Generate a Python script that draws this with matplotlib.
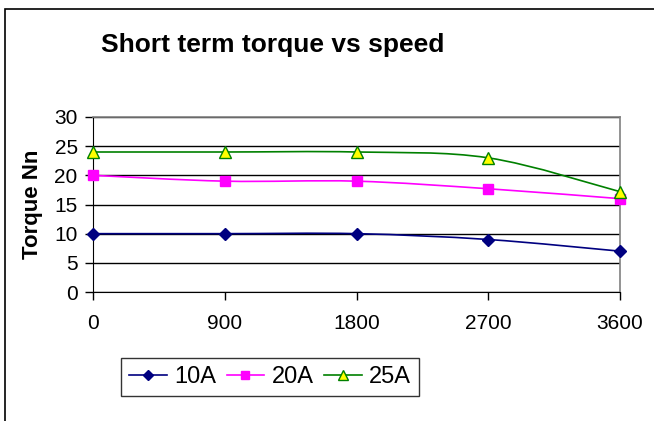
import matplotlib
matplotlib.use('Agg')
import matplotlib.pyplot as plt
from matplotlib.path import Path
from matplotlib.patches import PathPatch, Rectangle
from matplotlib.lines import Line2D
import numpy as np

speed = [0, 900, 1800, 2700, 3600]
torque_10a = [10, 10, 10, 9, 7]
torque_20a = [20, 19, 19, 17.7, 16]
torque_25a = [24, 24, 24, 23, 17.2]
series_names = ['10A', '20A', '25A']
x_ticks = [0, 900, 1800, 2700, 3600]
y_ticks = [0, 5, 10, 15, 20, 25, 30]

plt.rcParams['font.family'] = ['Liberation Sans', 'DejaVu Sans']


def smooth_path(x, y):
    # Excel style smoothed line: cubic bezier through every point
    p = np.column_stack([x, y]).astype(float)
    ext = np.vstack([p[0], p, p[-1]])
    verts = [p[0]]
    codes = [Path.MOVETO]
    for i in range(len(p) - 1):
        p0, p1, p2, p3 = ext[i], ext[i + 1], ext[i + 2], ext[i + 3]
        verts += [p1 + (p2 - p0) / 6, p2 - (p3 - p1) / 6, p2]
        codes += [Path.CURVE4] * 3
    return Path(verts, codes)


fig = plt.figure(figsize=(6.54, 4.21), dpi=100)
ax = fig.add_axes([93 / 654, 1 - 292 / 421, 527 / 654, 175 / 421])

styles = [
    dict(color='#000080', marker='D', mfc='#000080', mec='#000080', ms=6),
    dict(color='#FF00FF', marker='s', mfc='#FF00FF', mec='#FF00FF', ms=7),
    dict(color='#008000', marker='^', mfc='#FFFF00', mec='#008000', ms=8),
]
handles = []
for vals, name, st in zip([torque_10a, torque_20a, torque_25a], series_names, styles):
    ax.add_patch(PathPatch(smooth_path(speed, vals), facecolor='none',
                           edgecolor=st['color'], lw=1.2, zorder=3))
    ax.plot(speed, vals, ls='none', marker=st['marker'], mfc=st['mfc'],
            mec=st['mec'], ms=st['ms'], clip_on=False, zorder=4)
    handles.append(Line2D([], [], color=st['color'], lw=1.2, marker=st['marker'],
                          mfc=st['mfc'], mec=st['mec'], ms=st['ms'] - 1, label=name))

ax.set_xlim(0, 3600)
ax.set_ylim(0, 30)
ax.set_xticks(x_ticks)
ax.set_yticks(y_ticks)
ax.yaxis.grid(True, color='black', lw=1)
ax.set_axisbelow(True)
ax.tick_params(axis='both', direction='out', length=6, width=1, labelsize=15, color='black')
ax.tick_params(axis='x', pad=10)
ax.tick_params(axis='y', pad=5)
for s in ['top', 'right']:
    ax.spines[s].set_color('#808080')
    ax.spines[s].set_linewidth(1.2)
for s in ['left', 'bottom']:
    ax.spines[s].set_color('black')

ax.set_ylabel('Torque Nn', fontsize=16, fontweight='bold', labelpad=8)

fig.text(273 / 654, 1 - 45 / 421, 'Short term torque vs speed', ha='center', va='center',
         fontsize=19, fontweight='bold')

leg = fig.legend(handles=handles, loc='center', bbox_to_anchor=(270 / 654, 1 - 377 / 421),
                 ncol=3, fontsize=17, frameon=True, fancybox=False, edgecolor='black',
                 handlelength=1.6, handletextpad=0.3, columnspacing=0.45,
                 borderpad=0.35, borderaxespad=0)
leg.get_frame().set_linewidth(1)

fig.patches.append(Rectangle((4.5 / 654, -0.1), 1.2, 1.1 - 9.5 / 421, transform=fig.transFigure,
                             fill=False, edgecolor='black', lw=1.2, figure=fig))

fig.savefig('out.png', dpi=100)
